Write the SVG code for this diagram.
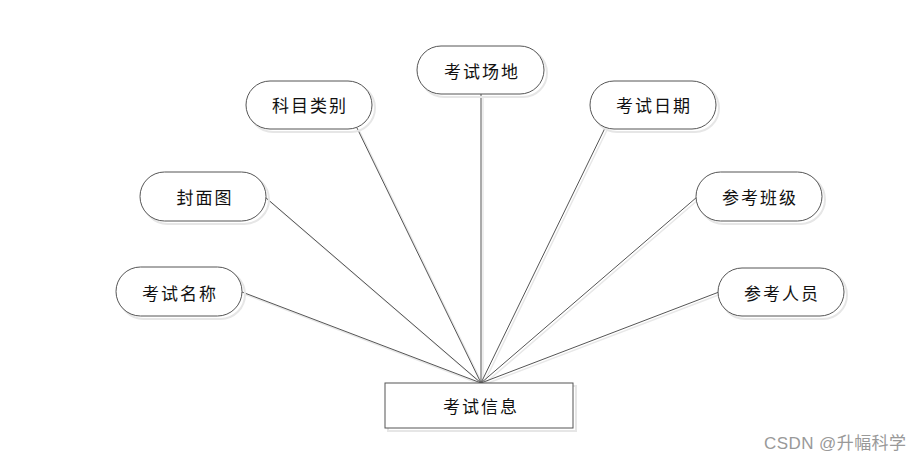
<svg xmlns="http://www.w3.org/2000/svg" width="922" height="464" viewBox="0 0 922 464">
<style>
.n{fill:#fff;stroke:#555;stroke-width:1}
.s{fill:none;stroke:#e6e6e6;stroke-width:2}
.t{font-family:"Noto Sans CJK SC","Liberation Sans",sans-serif;font-size:17px;letter-spacing:2px;fill:#111;text-anchor:middle;dominant-baseline:central}
.c line{stroke:#555;stroke-width:1}
.cs line{stroke:#e8e8e8;stroke-width:1.5}
.w{font-family:"Liberation Sans","Noto Sans CJK SC",sans-serif;font-size:17px;fill:#999}
</style>
<rect width="922" height="464" fill="#fff"/>
<g class="cs" transform="translate(2,2)">
<line x1="242" y1="292" x2="481" y2="383"/>
<line x1="265" y1="197" x2="481" y2="383"/>
<line x1="357" y1="128" x2="481" y2="383"/>
<line x1="481" y1="94" x2="481" y2="383"/>
<line x1="605" y1="128" x2="481" y2="383"/>
<line x1="697" y1="197" x2="481" y2="383"/>
<line x1="719" y1="292" x2="481" y2="383"/>
</g>
<g id="connectors" class="c">
<line x1="242" y1="292" x2="481" y2="383"/>
<line x1="265" y1="197" x2="481" y2="383"/>
<line x1="357" y1="128" x2="481" y2="383"/>
<line x1="481" y1="94" x2="481" y2="383"/>
<line x1="605" y1="128" x2="481" y2="383"/>
<line x1="697" y1="197" x2="481" y2="383"/>
<line x1="719" y1="292" x2="481" y2="383"/>
</g>
<g id="n-center">
<rect class="s" x="388" y="386" width="188" height="45"/>
<rect class="n" x="385" y="383" width="188" height="45"/>
<text class="t" x="481" y="405">考试信息</text>
</g>
<g id="n-name">
<rect class="s" x="119" y="270" width="126" height="49" rx="24.5"/>
<rect class="n" x="116" y="267" width="126" height="49" rx="24.5"/>
<text class="t" x="180" y="292">考试名称</text>
</g>
<g id="n-cover">
<rect class="s" x="143" y="175" width="126" height="49" rx="24.5"/>
<rect class="n" x="140" y="172" width="126" height="49" rx="24.5"/>
<text class="t" x="205" y="196">封面图</text>
</g>
<g id="n-subject">
<rect class="s" x="249" y="84" width="126" height="48" rx="24"/>
<rect class="n" x="246" y="81" width="126" height="48" rx="24"/>
<text class="t" x="310" y="104">科目类别</text>
</g>
<g id="n-place">
<rect class="s" x="420" y="49" width="127" height="48" rx="24"/>
<rect class="n" x="417" y="46" width="127" height="48" rx="24"/>
<text class="t" x="482" y="70">考试场地</text>
</g>
<g id="n-date">
<rect class="s" x="593" y="84" width="126" height="48" rx="24"/>
<rect class="n" x="590" y="81" width="126" height="48" rx="24"/>
<text class="t" x="654" y="104">考试日期</text>
</g>
<g id="n-class">
<rect class="s" x="699" y="175" width="126" height="49" rx="24.5"/>
<rect class="n" x="696" y="172" width="126" height="49" rx="24.5"/>
<text class="t" x="760" y="196">参考班级</text>
</g>
<g id="n-people">
<rect class="s" x="721" y="271" width="126" height="48" rx="24"/>
<rect class="n" x="718" y="268" width="126" height="48" rx="24"/>
<text class="t" x="782" y="292">参考人员</text>
</g>
<text class="w" x="764" y="449" textLength="142">CSDN @升幅科学</text>
</svg>
